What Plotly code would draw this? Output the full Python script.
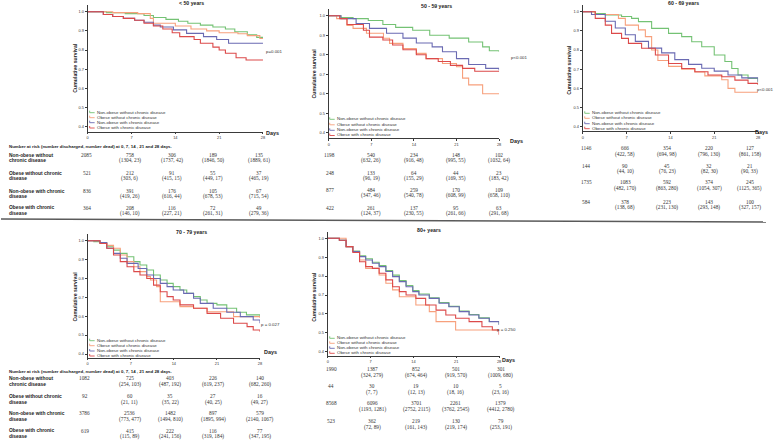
import plotly.graph_objects as go

W, H = 778, 441
SANS = "Liberation Sans, Arial, sans-serif"
SERIF = "Liberation Serif, Times New Roman, serif"

GROUPS = ["Non-obese without chronic disease", "Obese without chronic disease",
          "Non-obese with chronic disease", "Obese with chronic disease"]
ROW_LABELS = [("Non-obese without", "chronic disease"), ("Obese without chronic", "disease"),
              ("Non-obese with chronic", "disease"), ("Obese with chronic", "disease")]
COLORS = ["#74c274", "#f7a07c", "#6a6ab2", "#dc4a4a"]
DAY_TICKS = [0, 7, 14, 21, 28]
SURV_TICKS = [0.4, 0.5, 0.6, 0.7, 0.8, 0.9, 1.0]
PANEL_TITLES = ["< 50 years", "50 - 59 years", "60 - 69 years", "70 - 79 years", "80+ years"]
P_VALUES = ["p=0.001", "p<0.001", "p<0.001", "p = 0.027", "p = 0.250"]
TABLE_HEADER = "Number at risk (number discharged, number dead) at 0, 7, 14 , 21 and 28 days."

# ---------------- < 50 years ----------------
u50_day_g = [0, 3, 6, 9, 10.5, 12.5, 14.5, 16, 18, 20, 22, 23.5, 25.5, 27, 28]
u50_surv_g = [1.0, 0.995, 0.99, 0.98, 0.97, 0.96, 0.95, 0.94, 0.93, 0.92, 0.91, 0.895, 0.88, 0.866, 0.866]
u50_day_o = [0, 4, 8, 10, 10.5, 14, 16.5, 19, 21, 24, 25.5, 27.5, 28]
u50_surv_o = [1.0, 0.995, 0.99, 0.965, 0.94, 0.925, 0.91, 0.9, 0.89, 0.885, 0.875, 0.86, 0.86]
u50_day_b = [0, 2.5, 4, 5.7, 7.5, 9, 10.5, 11.6, 13.7, 15.8, 18.5, 20.6, 22.5, 28]
u50_surv_b = [1.0, 0.985, 0.975, 0.965, 0.955, 0.945, 0.93, 0.92, 0.905, 0.887, 0.87, 0.855, 0.835, 0.835]
u50_day_r = [0, 2.5, 4, 5.7, 7.5, 9, 10.5, 12, 13.5, 14.7, 17, 18, 20, 21, 22, 23.7, 25.3, 28]
u50_surv_r = [1.0, 0.985, 0.975, 0.965, 0.955, 0.94, 0.925, 0.91, 0.89, 0.87, 0.855, 0.835, 0.815, 0.8, 0.783, 0.76, 0.748, 0.748]
u50_at_risk = [[2085, 758, 306, 189, 135], [521, 212, 91, 55, 37], [836, 391, 176, 105, 67], [364, 208, 116, 72, 49]]
u50_discharged = [[1304, 1737, 1846, 1889], [303, 415, 449, 465], [419, 616, 678, 715], [146, 227, 261, 279]]
u50_dead = [[23, 42, 50, 61], [6, 15, 17, 19], [26, 44, 53, 54], [10, 21, 31, 36]]

# ---------------- 50 - 59 years ----------------
a50_day_g = [0, 2, 4, 6.5, 8.9, 11, 13.8, 16.6, 19.8, 23, 25.3, 26.4, 28]
a50_surv_g = [1.0, 0.99, 0.985, 0.975, 0.955, 0.94, 0.925, 0.9, 0.885, 0.865, 0.84, 0.82, 0.815]
a50_day_o = [0, 1.3, 3, 4, 6.2, 9, 10, 12.2, 14.4, 16, 18.7, 21, 22, 23, 25.3, 28]
a50_surv_o = [1.0, 0.985, 0.95, 0.935, 0.91, 0.884, 0.858, 0.832, 0.807, 0.78, 0.755, 0.738, 0.68, 0.645, 0.6, 0.6]
a50_day_b = [0, 2, 4.5, 6.7, 9.5, 12.2, 14.4, 17, 18.7, 21, 23, 25.8, 28]
a50_surv_b = [1.0, 0.985, 0.96, 0.935, 0.91, 0.885, 0.86, 0.84, 0.815, 0.78, 0.75, 0.73, 0.72]
a50_day_r = [0, 1.8, 3, 5.7, 6.7, 8.9, 10.5, 12.2, 14.4, 16, 18, 20, 22, 24, 28]
a50_surv_r = [1.0, 0.985, 0.955, 0.925, 0.89, 0.875, 0.85, 0.825, 0.8, 0.78, 0.765, 0.745, 0.73, 0.715, 0.713]
a50_at_risk = [[1198, 540, 234, 148, 102], [248, 133, 64, 44, 23], [877, 484, 259, 170, 109], [422, 261, 137, 95, 63]]
a50_discharged = [[632, 916, 995, 1032], [96, 155, 169, 183], [347, 540, 608, 658], [124, 230, 261, 291]]
a50_dead = [[26, 48, 55, 64], [19, 29, 35, 42], [46, 78, 99, 110], [37, 55, 66, 68]]

# ---------------- 60 - 69 years ----------------
a60_day_g = [0, 2, 3.6, 6.2, 7.8, 8.9, 11, 13.7, 15.8, 17.4, 19, 21, 22.7, 23.8, 24.8, 26.4, 28]
a60_surv_g = [1.0, 0.99, 0.983, 0.975, 0.965, 0.948, 0.913, 0.887, 0.87, 0.843, 0.817, 0.774, 0.74, 0.704, 0.67, 0.652, 0.63]
a60_day_o = [0, 2, 5.7, 6.8, 8.9, 10, 11, 12, 13.7, 15.8, 17.9, 19.5, 22.2, 23.2, 24.3, 28]
a60_surv_o = [1.0, 0.985, 0.965, 0.93, 0.905, 0.87, 0.8, 0.745, 0.715, 0.7, 0.685, 0.665, 0.645, 0.6, 0.58, 0.58]
a60_day_b = [0, 1.4, 3.6, 5.2, 6.8, 8.4, 10.5, 12.6, 14.7, 16.9, 19, 21, 23.2, 25.4, 28]
a60_surv_b = [1.0, 0.985, 0.95, 0.915, 0.88, 0.845, 0.81, 0.785, 0.75, 0.725, 0.705, 0.69, 0.67, 0.655, 0.635]
a60_day_r = [0, 2, 3.6, 4.6, 6.2, 7.3, 9.4, 11.6, 13.7, 15.8, 17.9, 20, 22.2, 24.3, 26.4, 28]
a60_surv_r = [1.0, 0.965, 0.93, 0.887, 0.861, 0.835, 0.809, 0.774, 0.73, 0.704, 0.687, 0.67, 0.661, 0.643, 0.626, 0.617]
a60_at_risk = [[1146, 666, 354, 220, 127], [144, 90, 45, 32, 21], [1735, 1083, 592, 374, 245], [584, 378, 223, 143, 100]]
a60_discharged = [[422, 694, 796, 861], [44, 76, 82, 90], [482, 863, 1054, 1125], [138, 231, 293, 327]]
a60_dead = [[58, 98, 130, 158], [10, 23, 30, 33], [170, 280, 307, 365], [68, 130, 148, 157]]

# ---------------- 70 - 79 years ----------------
a70_day_g = [0, 1, 2, 3.1, 4.2, 5.3, 6.4, 7.5, 8.5, 9.6, 10.7, 11.8, 12.9, 13.9, 15, 16.1, 17.2, 18.3, 19.4, 21, 22.6, 24.2, 25.8, 28]
a70_surv_g = [1.0, 0.995, 0.986, 0.968, 0.95, 0.933, 0.915, 0.889, 0.871, 0.845, 0.818, 0.792, 0.774, 0.757, 0.739, 0.721, 0.704, 0.686, 0.668, 0.66, 0.642, 0.621, 0.607, 0.6]
a70_day_o = [0, 2, 3.1, 4.2, 5.3, 6.4, 7.5, 8.5, 9.6, 10.2, 11.2, 11.8, 15, 17.2, 19.4, 23.7, 28]
a70_surv_o = [1.0, 0.99, 0.975, 0.96, 0.924, 0.889, 0.862, 0.836, 0.81, 0.792, 0.757, 0.677, 0.651, 0.642, 0.624, 0.598, 0.59]
a70_day_b = [0, 2, 3.1, 4.2, 5.3, 6.4, 8.2, 9.6, 10.7, 11.8, 12.9, 13.9, 15.6, 17.2, 18.3, 20.4, 22.6, 24.8, 26.9, 28]
a70_surv_b = [1.0, 0.99, 0.96, 0.933, 0.907, 0.88, 0.853, 0.818, 0.8, 0.774, 0.757, 0.739, 0.721, 0.695, 0.668, 0.642, 0.621, 0.598, 0.58, 0.563]
a70_day_r = [0, 2, 3.1, 4.2, 5.3, 6.4, 7.5, 8.5, 9.6, 10.7, 11.8, 12.9, 13.9, 15, 17.2, 19.4, 21.6, 23.7, 25.9, 26.9, 28]
a70_surv_r = [1.0, 0.985, 0.96, 0.924, 0.889, 0.862, 0.836, 0.818, 0.8, 0.765, 0.73, 0.704, 0.686, 0.66, 0.642, 0.615, 0.589, 0.563, 0.545, 0.527, 0.518]
a70_at_risk = [[1082, 725, 403, 226, 140], [92, 60, 35, 27, 16], [3786, 2536, 1482, 897, 579], [619, 415, 222, 116, 77]]
a70_discharged = [[254, 487, 619, 682], [21, 35, 40, 49], [773, 1494, 1895, 2140], [115, 241, 319, 347]]
a70_dead = [[103, 192, 237, 260], [11, 22, 25, 27], [477, 810, 994, 1067], [89, 156, 184, 195]]

# ---------------- 80+ years ----------------
a80_day_g = [0, 1.9, 3, 4.1, 5.2, 6.2, 7.3, 8.4, 9.5, 10.6, 11.7, 12.8, 13.9, 14.9, 16.6, 18.2, 19.8, 21.5, 23.1, 24.7, 26.4, 28]
a80_surv_g = [1.0, 0.99, 0.956, 0.933, 0.908, 0.892, 0.873, 0.856, 0.83, 0.805, 0.776, 0.75, 0.723, 0.705, 0.685, 0.66, 0.64, 0.615, 0.597, 0.579, 0.56, 0.545]
a80_day_o = [0, 1.9, 3, 4.1, 5.2, 6.2, 8.4, 9.5, 10.6, 11.7, 14.4, 16.6, 17.7, 20.9, 28]
a80_surv_o = [1.0, 1.0, 0.956, 0.93, 0.885, 0.841, 0.806, 0.762, 0.727, 0.691, 0.647, 0.612, 0.559, 0.515, 0.506]
a80_day_b = [0, 1.9, 3, 4.1, 5.2, 6.2, 7.3, 8.4, 9.5, 10.6, 11.7, 12.8, 13.9, 14.9, 16.6, 18.2, 19.8, 21.5, 23.1, 24.7, 26.4, 28]
a80_surv_b = [1.0, 0.99, 0.956, 0.93, 0.903, 0.885, 0.868, 0.85, 0.824, 0.797, 0.771, 0.744, 0.718, 0.7, 0.682, 0.656, 0.638, 0.612, 0.594, 0.577, 0.559, 0.541]
a80_day_r = [0, 1.9, 3, 4.1, 5.2, 6.2, 7.3, 8.4, 9.5, 10.6, 11.7, 12.8, 14.4, 16, 17.7, 19.3, 20.9, 23.1, 25.2, 26.9, 28]
a80_surv_r = [1.0, 0.99, 0.956, 0.925, 0.876, 0.85, 0.841, 0.815, 0.78, 0.744, 0.718, 0.7, 0.682, 0.647, 0.62, 0.594, 0.577, 0.559, 0.532, 0.515, 0.49]
a80_at_risk = [[1990, 1387, 852, 501, 301], [44, 30, 19, 10, 5], [8568, 6096, 3701, 2261, 1379], [523, 362, 219, 130, 79]]
a80_discharged = [[324, 674, 919, 1009], [7, 12, 18, 23], [1193, 2752, 3762, 4412], [72, 161, 219, 253]]
a80_dead = [[279, 464, 570, 680], [7, 13, 16, 16], [1281, 2115, 2545, 2780], [89, 143, 174, 191]]

PANEL_DATA = [
    ([(u50_day_g, u50_surv_g), (u50_day_o, u50_surv_o), (u50_day_b, u50_surv_b), (u50_day_r, u50_surv_r)],
     u50_at_risk, u50_discharged, u50_dead),
    ([(a50_day_g, a50_surv_g), (a50_day_o, a50_surv_o), (a50_day_b, a50_surv_b), (a50_day_r, a50_surv_r)],
     a50_at_risk, a50_discharged, a50_dead),
    ([(a60_day_g, a60_surv_g), (a60_day_o, a60_surv_o), (a60_day_b, a60_surv_b), (a60_day_r, a60_surv_r)],
     a60_at_risk, a60_discharged, a60_dead),
    ([(a70_day_g, a70_surv_g), (a70_day_o, a70_surv_o), (a70_day_b, a70_surv_b), (a70_day_r, a70_surv_r)],
     a70_at_risk, a70_discharged, a70_dead),
    ([(a80_day_g, a80_surv_g), (a80_day_o, a80_surv_o), (a80_day_b, a80_surv_b), (a80_day_r, a80_surv_r)],
     a80_at_risk, a80_discharged, a80_dead),
]

# ---------------- layout geometry (pixels) ----------------
GEOM = [
    dict(x0=87, x1=263, yt=5, yb=131.5, y10=11.7, y04=126.7,
         title=(191.7, 3), ptxt=(265, 51.7, "left"), days=(265, 132.7), ytitle=(74, 68),
         leg_x=89, leg_y=[112.7, 117.7, 122.7, 128.0],
         cols=[86, 129.3, 171.7, 213.3, 259.3], rows=[155, 173.3, 191, 207.7], gap=5.6,
         header=(7, 146), labels=True),
    dict(x0=329, x1=500, yt=9, yb=138.3, y10=15.7, y04=132.7,
         title=(436.7, 6), ptxt=(510.7, 57.3, "left"), days=(510, 140.7), ytitle=(314.3, 73.3),
         leg_x=330, leg_y=[119.3, 124.8, 130.3, 135.5],
         cols=[330, 371.7, 414.3, 456.7, 500], rows=[155, 172.7, 190, 207.7], gap=5.8,
         header=None, labels=False),
    dict(x0=584, x1=760, yt=5, yb=131.3, y10=11.7, y04=126.7,
         title=(685, 3.5), ptxt=(776.5, 89.3, "right"), days=(755.7, 132.3), ytitle=(570, 70),
         leg_x=586, leg_y=[113.3, 118.3, 123.7, 128.7],
         cols=[587.3, 626.7, 669, 711, 751.7], rows=[148.3, 165.7, 182.3, 201.7], gap=6.2,
         header=None, labels=False),
    dict(x0=87, x1=260, yt=234, yb=357.5, y10=240.7, y04=354,
         title=(191.7, 231.7), ptxt=(260, 324, "left"), days=(262.7, 352.3), ytitle=(74, 296.7),
         leg_x=89, leg_y=[340.7, 345.7, 351.0, 356.0],
         cols=[84, 129, 170, 213, 260], rows=[378.3, 396, 413.3, 430.7], gap=6.1,
         header=(7, 371), labels=True),
    dict(x0=328, x1=500, yt=232, yb=355.5, y10=238.3, y04=351.7,
         title=(430, 230), ptxt=(496.7, 329, "left"), days=(502.3, 360), ytitle=(314.3, 296.7),
         leg_x=330, leg_y=[338.3, 343.3, 348.3, 353.3],
         cols=[331.7, 372.7, 416.7, 456.7, 501.7], rows=[369, 386, 403.3, 420.7], gap=6.6,
         header=None, labels=False),
]


def fx(x):
    return x / W


def fy(y):
    return 1 - y / H


def ann(x, y, text, size, bold=False, xanchor="center", family=SANS, color="#222", angle=0):
    return dict(x=fx(x), y=fy(y), xref="paper", yref="paper",
                text=f"<b>{text}</b>" if bold else text, showarrow=False,
                xanchor=xanchor, yanchor="middle", textangle=angle,
                font=dict(size=size, family=family, color=color), borderpad=0)


fig = go.Figure()
annotations = []
shapes = []
layout_axes = {}

for i, (g, (series, at_risk, disch, dead)) in enumerate(zip(GEOM, PANEL_DATA)):
    n = "" if i == 0 else str(i + 1)
    xid, yid = "x" + n, "y" + n
    scale = 0.6 / (g["y04"] - g["y10"])
    lo = 1 - (g["yb"] - g["y10"]) * scale
    hi = 1 + (g["y10"] - g["yt"]) * scale

    for k, (d, s) in enumerate(series):
        fig.add_trace(go.Scatter(x=d, y=s, mode="lines", name=GROUPS[k],
                                 line=dict(shape="hv", color=COLORS[k], width=1.1),
                                 xaxis=xid, yaxis=yid, hoverinfo="skip", showlegend=False))

    common = dict(showline=True, linecolor="#3a3a3a", linewidth=0.9, ticks="outside",
                  ticklen=2, tickwidth=0.6, tickcolor="#3a3a3a", showgrid=False,
                  zeroline=False, fixedrange=True,
                  tickfont=dict(size=3.9, family=SANS, color="#333"))
    layout_axes["xaxis" + n] = dict(domain=[fx(g["x0"]), fx(g["x1"])], anchor=yid,
                                    range=[0, 28], tickvals=DAY_TICKS, **common)
    layout_axes["yaxis" + n] = dict(domain=[fy(g["yb"]), fy(g["yt"])], anchor=xid,
                                    range=[lo, hi], tickvals=SURV_TICKS,
                                    ticktext=[f"{v:.1f}" for v in SURV_TICKS], **common)

    # titles and labels
    annotations.append(ann(*g["title"], PANEL_TITLES[i], 5.2, bold=True))
    px_, py_, pa = g["ptxt"]
    annotations.append(ann(px_, py_, P_VALUES[i], 4.4, xanchor=pa, color="#333"))
    annotations.append(ann(*g["days"], "Days", 5.4, bold=True, xanchor="left"))
    annotations.append(ann(*g["ytitle"], "Cumulative survival", 5.2, bold=True, angle=-90))

    # legend
    for k, ly in enumerate(g["leg_y"]):
        x0 = g["leg_x"]
        shapes.append(dict(type="path", xref="paper", yref="paper",
                           path=f"M {fx(x0)},{fy(ly - 2)} L {fx(x0)},{fy(ly)} L {fx(x0 + 5)},{fy(ly)}",
                           line=dict(color=COLORS[k], width=0.9)))
        annotations.append(ann(x0 + 6.5, ly - 0.6, GROUPS[k], 4.4, xanchor="left", color="#333"))

    # risk table
    if g["header"]:
        annotations.append(ann(g["header"][0], g["header"][1], TABLE_HEADER, 4.4, bold=True, xanchor="left"))
    for r in range(4):
        ry = g["rows"][r]
        if g["labels"]:
            annotations.append(ann(7, ry, ROW_LABELS[r][0], 4.9, bold=True, xanchor="left"))
            annotations.append(ann(7, ry + g["gap"], ROW_LABELS[r][1], 4.9, bold=True, xanchor="left"))
        for c in range(5):
            cx = g["cols"][c]
            annotations.append(ann(cx, ry, str(at_risk[r][c]), 5.3, family=SERIF, color="#333"))
            if c > 0:
                annotations.append(ann(cx, ry + g["gap"], f"({disch[r][c - 1]}, {dead[r][c - 1]})",
                                       5.3, family=SERIF, color="#333"))

# separator line between the two rows of panels
shapes.append(dict(type="line", xref="paper", yref="paper", x0=0, x1=fx(768),
                   y0=fy(219), y1=fy(222), line=dict(color="#5a5a5a", width=1.3)))

fig.update_layout(width=W, height=H, margin=dict(l=0, r=0, t=0, b=0),
                  paper_bgcolor="white", plot_bgcolor="white", showlegend=False,
                  annotations=annotations, shapes=shapes, **layout_axes)

# the page body has a default 8px margin; remove it so the 778x441 figure fills the window
fig.write_html("out.html", config={"displayModeBar": False},
               post_script="document.body.style.margin='0';document.body.style.overflow='hidden';")
